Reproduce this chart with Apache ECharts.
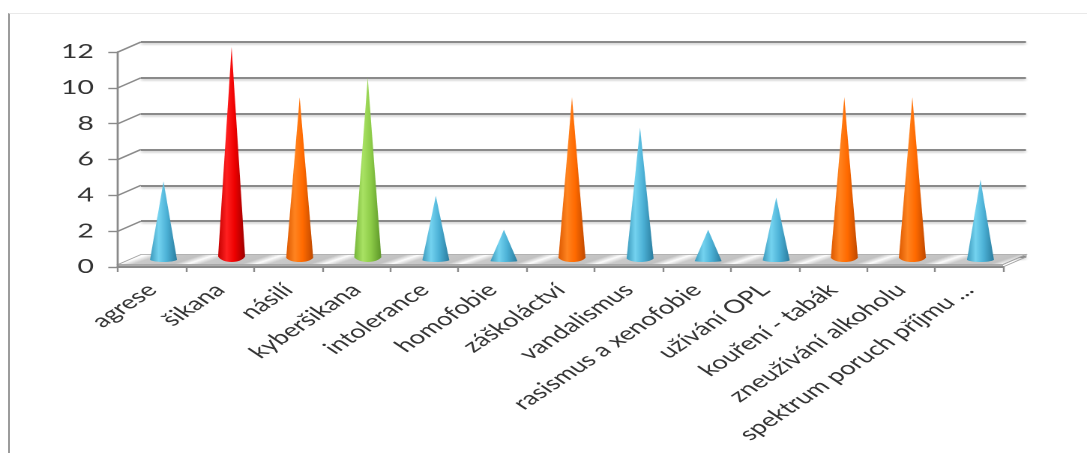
<!DOCTYPE html>
<html>
<head>
<meta charset="utf-8">
<script src="https://cdn.jsdelivr.net/npm/echarts@6/dist/echarts.min.js"></script>
<style>
  html, body { margin: 0; padding: 0; background: #fff; width: 1087px; height: 453px; overflow: hidden; }
  #frame {
    position: absolute; left: 8px; top: 13px; width: 1079px; height: 440px;
    border-left: 2px solid #9c9c9c; border-top: 1px solid #e9e9e9; box-sizing: border-box;
  }
  /* the chart is laid out narrow and widened horizontally, like the wide-format slide it comes from */
  #chart {
    position: absolute; left: 0; top: 0; width: 725px; height: 453px;
    transform: scaleX(1.4993); transform-origin: 0 0;
  }
</style>
</head>
<body>
<div id="frame"></div>
<div id="chart"></div>
<script>
// ---- data ----
const categories = [
  'agrese', 'šikana', 'násilí', 'kyberšikana', 'intolerance', 'homofobie',
  'záškoláctví', 'vandalismus', 'rasismus a xenofobie', 'užívání OPL',
  'kouření - tabák', 'zneužívání alkoholu', 'spektrum poruch příjmu ...'
];
const values = [4.5, 12, 9.2, 10.3, 3.7, 1.8, 9.2, 7.5, 1.8, 3.6, 9.2, 9.2, 4.6];
const yTicks = [0, 2, 4, 6, 8, 10, 12];

// ---- styling ----
const coneTone = ['aqua', 'red', 'orange', 'green', 'aqua', 'aqua', 'orange',
                  'aqua', 'aqua', 'aqua', 'orange', 'orange', 'aqua'];
const tones = {
  aqua:   ['#3a98bb', '#74d3f0', '#4cb1d6', '#2a7c9e'],
  red:    ['#c40000', '#ff2020', '#ee0000', '#9c0000'],
  orange: ['#dc5800', '#ff8420', '#ff6a00', '#bf4900'],
  green:  ['#74b438', '#a9e264', '#8dcc48', '#5c9628']
};
function coneFill(name) {
  const c = tones[name];
  return new echarts.graphic.LinearGradient(0, 0, 1, 0, [
    { offset: 0, color: c[0] }, { offset: 0.32, color: c[1] },
    { offset: 0.62, color: c[2] }, { offset: 1, color: c[3] }
  ]);
}

const FRONT = { left: 78.7, top: 52, width: 590.3, height: 215 };
const DEPTH = [15.3, -10];          // offset of the back wall from the front plane
const GRID_LINE = '#8a8a8a';
const TEXT = '#333333';
const FONT = 'Lato, "Open Sans", sans-serif';

const grids = [
  FRONT,
  { left: FRONT.left + DEPTH[0], top: FRONT.top + DEPTH[1], width: FRONT.width, height: FRONT.height },
  { left: FRONT.left + DEPTH[0] / 2, top: FRONT.top + DEPTH[1] / 2, width: FRONT.width, height: FRONT.height }
];

const yBase = { type: 'value', min: 0, max: 12, interval: 2 };

const chart = echarts.init(document.getElementById('chart'), null, { renderer: 'canvas', devicePixelRatio: 2 });

// floor: a thin slab between the front axis and the back wall, with glossy streaks
function renderFloor(params, api) {
  const n = categories.length;
  const band = api.size([1, 0])[0];
  const a = api.coord([0, 0]);
  const b = api.coord([n - 1, 0]);
  const x0 = a[0] - band / 2, x1 = b[0] + band / 2, y = a[1];
  const top = y - 2.5;
  const w = x1 - x0;
  const stops = [];
  for (let i = 0; i <= n; i++) {
    const t = i / n;
    const s = 0.2 / n;
    if (t - s >= 0) stops.push({ offset: t - s, color: '#c2c2c2' });
    stops.push({ offset: Math.min(Math.max(t, 0), 1), color: '#fdfdfd' });
    if (t + s <= 1) stops.push({ offset: t + s, color: '#cacaca' });
  }
  const fill = new echarts.graphic.LinearGradient(
    x0, top, x0 + w / 5, top + 2 * w / 5, stops, true);
  return {
    type: 'group',
    children: [
      {
        type: 'polygon',
        shape: { points: [[x0, top], [x1, top], [x1 + DEPTH[0], top + DEPTH[1]], [x0 + DEPTH[0], top + DEPTH[1]]] },
        style: { fill: fill, stroke: '#a2a2a2', lineWidth: 0.8 }
      },
      {
        type: 'polygon',
        shape: { points: [[x0, top], [x1, top], [x1 + DEPTH[0], top + DEPTH[1]], [x1 + DEPTH[0], y + DEPTH[1]], [x1, y], [x0, y]] },
        style: { fill: 'none', stroke: '#a2a2a2', lineWidth: 0.8 }
      },
      {
        type: 'rect',
        shape: { x: x0, y: top, width: w, height: y - top },
        style: { fill: '#adadad' }
      }
    ]
  };
}

// side connectors from the value axis ticks back to the wall gridlines
function renderConnector(params, api) {
  const p = api.coord([0, api.value(1)]);
  const x = p[0] - api.size([1, 0])[0] / 2;
  return {
    type: 'line',
    shape: { x1: x, y1: p[1], x2: x + DEPTH[0], y2: p[1] + DEPTH[1] },
    style: { stroke: GRID_LINE, lineWidth: 1.4 }
  };
}

chart.setOption({
  animation: false,
  backgroundColor: 'transparent',
  grid: grids.map(g => Object.assign({ containLabel: false }, g)),
  xAxis: [
    {
      type: 'category', gridIndex: 0, data: categories, z: 5,
      axisLine: { show: true, lineStyle: { color: GRID_LINE, width: 2 } },
      axisTick: { show: true, length: 5, lineStyle: { color: GRID_LINE, width: 1.2 } },
      axisLabel: {
        rotate: 45, margin: 20, color: TEXT, fontFamily: FONT, fontSize: 18.5, interval: 0
      }
    },
    { type: 'category', gridIndex: 1, data: categories, show: false },
    { type: 'category', gridIndex: 2, data: categories, show: false }
  ],
  yAxis: [
    Object.assign({}, yBase, {
      gridIndex: 0, z: 5,
      axisLine: { show: true, lineStyle: { color: GRID_LINE, width: 1.4 } },
      axisTick: { show: true, length: 6.5, lineStyle: { color: GRID_LINE, width: 1.4 } },
      axisLabel: { color: TEXT, fontFamily: FONT, fontSize: 19, margin: 16 },
      splitLine: { show: false }
    }),
    Object.assign({}, yBase, {
      gridIndex: 1,
      axisLine: { show: false }, axisTick: { show: false }, axisLabel: { show: false },
      splitLine: {
        show: true,
        lineStyle: { color: GRID_LINE, width: 2, shadowColor: 'rgba(0,0,0,0.22)', shadowBlur: 2, shadowOffsetY: 1.5 }
      }
    }),
    Object.assign({}, yBase, { gridIndex: 2, show: false })
  ],
  series: [
    {
      type: 'custom', name: 'connectors', xAxisIndex: 0, yAxisIndex: 0, z: 1,
      data: yTicks.map(v => [0, v]), renderItem: renderConnector, silent: true
    },
    {
      type: 'custom', name: 'floor', xAxisIndex: 0, yAxisIndex: 0, z: 2,
      data: [[0, 0]], renderItem: renderFloor, silent: true
    },
    {
      type: 'pictorialBar', name: 'cones', xAxisIndex: 2, yAxisIndex: 2, z: 6,
      symbol: 'path://M50,0 L100,98 C85,101.5 15,101.5 0,98 Z',
      symbolSize: [18, '100%'],
      data: values.map((v, i) => ({ value: v, itemStyle: { color: coneFill(coneTone[i]) } }))
    }
  ]
});
</script>
</body>
</html>
